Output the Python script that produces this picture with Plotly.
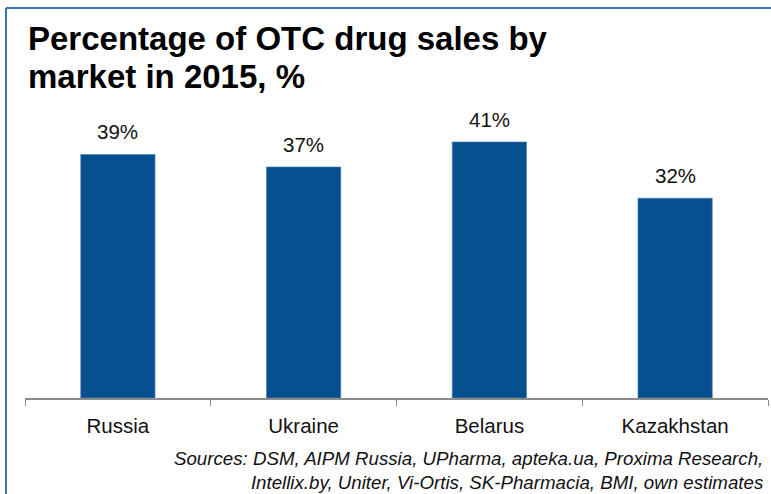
import plotly.graph_objects as go

markets = ["Russia", "Ukraine", "Belarus", "Kazakhstan"]
otc_share = [39, 37, 41, 32]
labels = [f"{v}%" for v in otc_share]

TITLE_LINES = ["Percentage of OTC drug sales by", "market in 2015, %"]
SOURCES = ("Sources: DSM, AIPM Russia, UPharma, apteka.ua, Proxima Research,<br>"
           "Intellix.by, Uniter, Vi-Ortis, SK-Pharmacia, BMI, own estimates")

BAR_BLUE = "#07508f"
FRAME_BLUE = "#3d72b2"
FONT = "Liberation Sans, Arial, sans-serif"

# plot area in pixels: x 25..768, y 117..398
L, T, PW, PH = 25, 117, 743, 281


def px_x(x):
    return (x - L) / PW


def px_y(y):
    return 1 - (y - T) / PH


fig = go.Figure()
fig.add_trace(
    go.Bar(
        x=markets,
        y=otc_share,
        marker=dict(color=BAR_BLUE, line=dict(color="#4a7fb5", width=0.6)),
        width=0.4,
        hoverinfo="skip",
    )
)

# value labels above the bars
for m, v, lab in zip(markets, otc_share, labels):
    fig.add_annotation(
        x=m, y=v, text=lab,
        xanchor="center", yanchor="bottom", yshift=9,
        showarrow=False,
        font=dict(size=20.5, color="#111", family=FONT),
    )

# blue frame (top + left edges of the slide box)
fig.add_shape(type="line", xref="paper", yref="paper",
              x0=px_x(6), x1=px_x(775), y0=px_y(8), y1=px_y(8),
              line=dict(color=FRAME_BLUE, width=2))
fig.add_shape(type="line", xref="paper", yref="paper",
              x0=px_x(6), x1=px_x(6), y0=px_y(8), y1=px_y(500),
              line=dict(color=FRAME_BLUE, width=2))

# title, one annotation per line
for line, baseline in zip(TITLE_LINES, [51, 89]):
    fig.add_annotation(
        text=f"<b>{line}</b>",
        xref="paper", yref="paper",
        x=px_x(26), y=px_y(baseline + 8),
        xanchor="left", yanchor="bottom",
        showarrow=False,
        font=dict(size=33, color="black", family=FONT),
    )

fig.add_annotation(
    text=SOURCES,
    xref="paper", yref="paper",
    x=px_x(765), y=px_y(446),
    xanchor="right", yanchor="top",
    align="right", showarrow=False,
    font=dict(size=18.7, color="#111", family=FONT, style="italic"),
)

fig.update_layout(
    width=771,
    height=494,
    margin=dict(l=L, r=771 - L - PW, t=T, b=494 - T - PH, autoexpand=False),
    paper_bgcolor="white",
    plot_bgcolor="white",
    showlegend=False,
    font=dict(family=FONT, color="#111"),
    xaxis=dict(
        showline=True, linecolor="#8c8c8c", linewidth=1.5,
        ticks="outside", tickson="boundaries", ticklen=6, tickcolor="#8c8c8c",
        tickfont=dict(size=20.5, color="#111", family=FONT),
        ticklabelstandoff=9,
        showgrid=False,
    ),
    yaxis=dict(range=[0, 45], visible=False, showgrid=False, zeroline=False),
)

fig.write_html(
    "out.html",
    config={"displayModeBar": False},
    post_script="document.body.style.margin='0';",
)
